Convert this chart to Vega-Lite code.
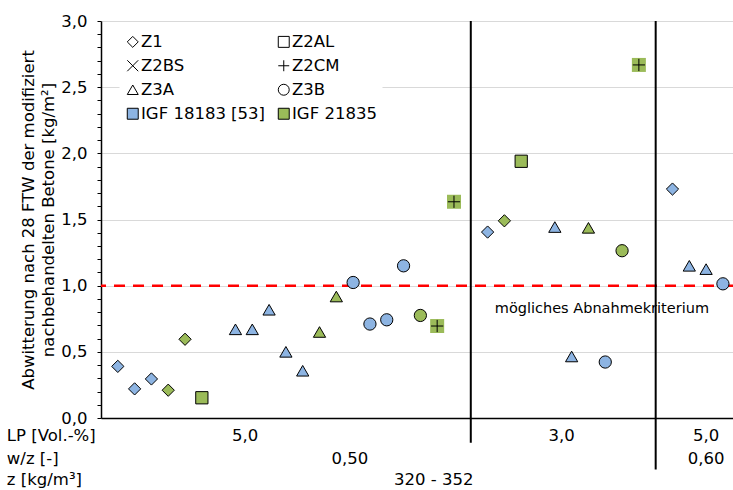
{
  "$schema": "https://vega.github.io/schema/vega-lite/v6.json",
  "width": 632,
  "height": 397,
  "autosize": {"type": "none"},
  "padding": {"left": 101, "top": 21, "right": 0, "bottom": 72},
  "background": "white",
  "config": {
    "view": {"stroke": null},
    "font": "DejaVu Sans",
    "text": {"font": "DejaVu Sans", "color": "#000000"},
    "legend": {
      "title": null,
      "orient": "none",
      "legendX": 18.5,
      "legendY": 7.5,
      "columns": 2,
      "columnPadding": 10,
      "rowPadding": 7,
      "padding": 5,
      "fillColor": "white",
      "symbolSize": 120,
      "symbolStrokeWidth": 1,
      "symbolStrokeColor": "#000000",
      "symbolOpacity": 1,
      "labelFont": "DejaVu Sans",
      "labelFontSize": 16.5,
      "labelColor": "#000000",
      "labelOffset": 0,
      "labelLimit": 300
    }
  },
  "datasets": {
    "pts": [
      {"pos": 1, "val": 0.39, "typ": "Z1", "proj": "IGF 18183 [53]"},
      {"pos": 2, "val": 0.22, "typ": "Z1", "proj": "IGF 18183 [53]"},
      {"pos": 3, "val": 0.295, "typ": "Z1", "proj": "IGF 18183 [53]"},
      {"pos": 4, "val": 0.21, "typ": "Z1", "proj": "IGF 21835"},
      {"pos": 5, "val": 0.595, "typ": "Z1", "proj": "IGF 21835"},
      {"pos": 6, "val": 0.153, "typ": "Z2AL", "proj": "IGF 21835"},
      {"pos": 8, "val": 0.67, "typ": "Z3A", "proj": "IGF 18183 [53]"},
      {"pos": 9, "val": 0.67, "typ": "Z3A", "proj": "IGF 18183 [53]"},
      {"pos": 10, "val": 0.818, "typ": "Z3A", "proj": "IGF 18183 [53]"},
      {"pos": 11, "val": 0.5, "typ": "Z3A", "proj": "IGF 18183 [53]"},
      {"pos": 12, "val": 0.357, "typ": "Z3A", "proj": "IGF 18183 [53]"},
      {"pos": 13, "val": 0.65, "typ": "Z3A", "proj": "IGF 21835"},
      {"pos": 14, "val": 0.918, "typ": "Z3A", "proj": "IGF 21835"},
      {"pos": 15, "val": 1.024, "typ": "Z3B", "proj": "IGF 18183 [53]"},
      {"pos": 16, "val": 0.71, "typ": "Z3B", "proj": "IGF 18183 [53]"},
      {"pos": 17, "val": 0.742, "typ": "Z3B", "proj": "IGF 18183 [53]"},
      {"pos": 18, "val": 1.15, "typ": "Z3B", "proj": "IGF 18183 [53]"},
      {"pos": 19, "val": 0.775, "typ": "Z3B", "proj": "IGF 21835"},
      {"pos": 20, "val": 0.695, "typ": "Z2CM", "proj": "IGF 21835"},
      {"pos": 21, "val": 1.634, "typ": "Z2CM", "proj": "IGF 21835"},
      {"pos": 23, "val": 1.405, "typ": "Z1", "proj": "IGF 18183 [53]"},
      {"pos": 24, "val": 1.49, "typ": "Z1", "proj": "IGF 21835"},
      {"pos": 25, "val": 1.94, "typ": "Z2AL", "proj": "IGF 21835"},
      {"pos": 27, "val": 1.443, "typ": "Z3A", "proj": "IGF 18183 [53]"},
      {"pos": 28, "val": 0.465, "typ": "Z3A", "proj": "IGF 18183 [53]"},
      {"pos": 29, "val": 1.437, "typ": "Z3A", "proj": "IGF 21835"},
      {"pos": 30, "val": 0.423, "typ": "Z3B", "proj": "IGF 18183 [53]"},
      {"pos": 31, "val": 1.264, "typ": "Z3B", "proj": "IGF 21835"},
      {"pos": 32, "val": 2.668, "typ": "Z2CM", "proj": "IGF 21835"},
      {"pos": 34, "val": 1.73, "typ": "Z1", "proj": "IGF 18183 [53]"},
      {"pos": 35, "val": 1.15, "typ": "Z3A", "proj": "IGF 18183 [53]"},
      {"pos": 36, "val": 1.125, "typ": "Z3A", "proj": "IGF 18183 [53]"},
      {"pos": 37, "val": 1.014, "typ": "Z3B", "proj": "IGF 18183 [53]"}
    ],
    "seps": [
      {"pos": 22, "top": 3.0, "bottom": -0.187},
      {"pos": 33, "top": 3.0, "bottom": -0.39}
    ],
    "axisText": [
      {"t": "LP [Vol.-%]", "lvl": 1, "hdr": true, "pos": -5.6},
      {"t": "w/z [-]", "lvl": 2, "hdr": true, "pos": -5.6},
      {"t": "z [kg/m³]", "lvl": 3, "hdr": true, "pos": -5.6},
      {"t": "5,0", "lvl": 1, "hdr": false, "pos": 8.57},
      {"t": "3,0", "lvl": 1, "hdr": false, "pos": 27.4},
      {"t": "5,0", "lvl": 1, "hdr": false, "pos": 36.0},
      {"t": "0,50", "lvl": 2, "hdr": false, "pos": 14.8},
      {"t": "0,60", "lvl": 2, "hdr": false, "pos": 36.0},
      {"t": "320 - 352", "lvl": 3, "hdr": false, "pos": 19.8}
    ]
  },
  "layer": [
    {
      "data": {"values": [{"v": 1.0}]},
      "mark": {"type": "rule", "color": "#FF0000", "strokeWidth": 2.5, "strokeDash": [11, 8]},
      "encoding": {
        "y": {
          "field": "v", "type": "quantitative",
          "scale": {"domain": [0, 3], "nice": false, "zero": false},
          "axis": {
            "tickCount": 30,
            "labelExpr": "abs(datum.value*2 - round(datum.value*2)) < 0.001 ? replace(format(datum.value, '.1f'), '.', ',') : ''",
            "labelOverlap": false,
            "labelFlush": false,
            "labelFont": "DejaVu Sans",
            "labelFontSize": 16.5,
            "labelColor": "#000000",
            "labelPadding": 10,
            "grid": true,
            "gridColor": "#D9D9D9",
            "gridWidth": 1,
            "gridOpacity": {"condition": {"test": "abs(datum.value*2 - round(datum.value*2)) < 0.001", "value": 1}, "value": 0},
            "domainColor": "#000000",
            "domainWidth": 1.5,
            "tickColor": "#000000",
            "tickSize": 4,
            "tickWidth": 1,
            "title": ["Abwitterung nach 28 FTW der modifiziert", "nachbehandelten Betone [kg/m²]"],
            "titleFont": "DejaVu Sans",
            "titleFontSize": 16.5,
            "titleFontWeight": "normal",
            "titleColor": "#000000",
            "titlePadding": 4,
            "titleLineHeight": 20
          }
        }
      }
    },
    {
      "data": {"name": "seps"},
      "mark": {"type": "rule", "color": "#000000", "strokeWidth": 2},
      "encoding": {
        "x": {"field": "pos", "type": "quantitative",
          "scale": {"domain": [0, 37.6], "nice": false, "zero": false},
          "axis": {"labels": false, "ticks": false, "grid": false, "title": null, "domainColor": "#000000", "domainWidth": 1.5}},
        "y": {"field": "top", "type": "quantitative"},
        "y2": {"field": "bottom"}
      }
    },
    {
      "data": {"name": "pts"},
      "transform": [{"filter": "datum.typ === 'Z2CM'"}],
      "mark": {"type": "point", "shape": "square", "filled": true, "color": "#9BBB59", "opacity": 1, "size": 196},
      "encoding": {
        "x": {"field": "pos", "type": "quantitative"},
        "y": {"field": "val", "type": "quantitative"}
      }
    },
    {
      "data": {"name": "pts"},
      "mark": {"type": "point", "filled": true, "opacity": 1, "stroke": "#000000", "strokeWidth": 1, "size": 150},
      "encoding": {
        "x": {"field": "pos", "type": "quantitative"},
        "y": {"field": "val", "type": "quantitative"},
        "color": {"field": "proj", "type": "nominal",
          "scale": {"domain": ["IGF 18183 [53]", "IGF 21835"], "range": ["#8DB4E2", "#9BBB59"]},
          "legend": null},
        "shape": {"field": "typ", "type": "nominal",
          "scale": {
            "domain": ["Z1", "Z2BS", "Z3A", "IGF 18183 [53]", "Z2AL", "Z2CM", "Z3B", "IGF 21835"],
            "range": ["diamond", "M-1,-1L1,1M-1,1L1,-1", "triangle-up", "square", "square", "M-1,0L1,0M0,-1L0,1", "circle", "square"]
          },
          "legend": {"title": null}
        }
      }
    },
    {
      "data": {"values": []},
      "mark": {"type": "point", "filled": true, "opacity": 1, "strokeWidth": 1},
      "encoding": {
        "x": {"field": "pos", "type": "quantitative"},
        "y": {"field": "val", "type": "quantitative"},
        "shape": {"field": "typ", "type": "nominal", "legend": {"title": null}},
        "fill": {"field": "typ", "type": "nominal",
          "scale": {
            "domain": ["Z1", "Z2BS", "Z3A", "IGF 18183 [53]", "Z2AL", "Z2CM", "Z3B", "IGF 21835"],
            "range": ["#FFFFFF", "#FFFFFF", "#FFFFFF", "#8DB4E2", "#FFFFFF", "#FFFFFF", "#FFFFFF", "#9BBB59"]
          },
          "legend": {"title": null}
        },
        "stroke": {"field": "typ", "type": "nominal",
          "scale": {
            "domain": ["Z1", "Z2BS", "Z3A", "IGF 18183 [53]", "Z2AL", "Z2CM", "Z3B", "IGF 21835"],
            "range": ["#000000", "#000000", "#000000", "#000000", "#000000", "#000000", "#000000", "#000000"]
          },
          "legend": {"title": null}
        }
      }
    },
    {
      "data": {"values": [{"pos": 29.8, "val": 0.825, "t": "mögliches Abnahmekriterium"}]},
      "mark": {"type": "text", "fontSize": 14.5, "align": "center", "baseline": "middle"},
      "encoding": {
        "x": {"field": "pos", "type": "quantitative"},
        "y": {"field": "val", "type": "quantitative"},
        "text": {"field": "t"}
      }
    },
    {
      "data": {"name": "axisText"},
      "layer": [
        {"transform": [{"filter": "datum.hdr && datum.lvl === 1"}], "mark": {"type": "text", "fontSize": 16.5, "align": "left", "baseline": "middle"},
          "encoding": {"x": {"field": "pos", "type": "quantitative"}, "y": {"datum": -0.134}, "text": {"field": "t"}}},
        {"transform": [{"filter": "datum.hdr && datum.lvl === 2"}], "mark": {"type": "text", "fontSize": 16.5, "align": "left", "baseline": "middle"},
          "encoding": {"x": {"field": "pos", "type": "quantitative"}, "y": {"datum": -0.311}, "text": {"field": "t"}}},
        {"transform": [{"filter": "datum.hdr && datum.lvl === 3"}], "mark": {"type": "text", "fontSize": 16.5, "align": "left", "baseline": "middle"},
          "encoding": {"x": {"field": "pos", "type": "quantitative"}, "y": {"datum": -0.466}, "text": {"field": "t"}}},
        {"transform": [{"filter": "!datum.hdr && datum.lvl === 1"}], "mark": {"type": "text", "fontSize": 16.5, "align": "center", "baseline": "middle"},
          "encoding": {"x": {"field": "pos", "type": "quantitative"}, "y": {"datum": -0.134}, "text": {"field": "t"}}},
        {"transform": [{"filter": "!datum.hdr && datum.lvl === 2"}], "mark": {"type": "text", "fontSize": 16.5, "align": "center", "baseline": "middle"},
          "encoding": {"x": {"field": "pos", "type": "quantitative"}, "y": {"datum": -0.311}, "text": {"field": "t"}}},
        {"transform": [{"filter": "!datum.hdr && datum.lvl === 3"}], "mark": {"type": "text", "fontSize": 16.5, "align": "center", "baseline": "middle"},
          "encoding": {"x": {"field": "pos", "type": "quantitative"}, "y": {"datum": -0.466}, "text": {"field": "t"}}}
      ]
    }
  ]
}
